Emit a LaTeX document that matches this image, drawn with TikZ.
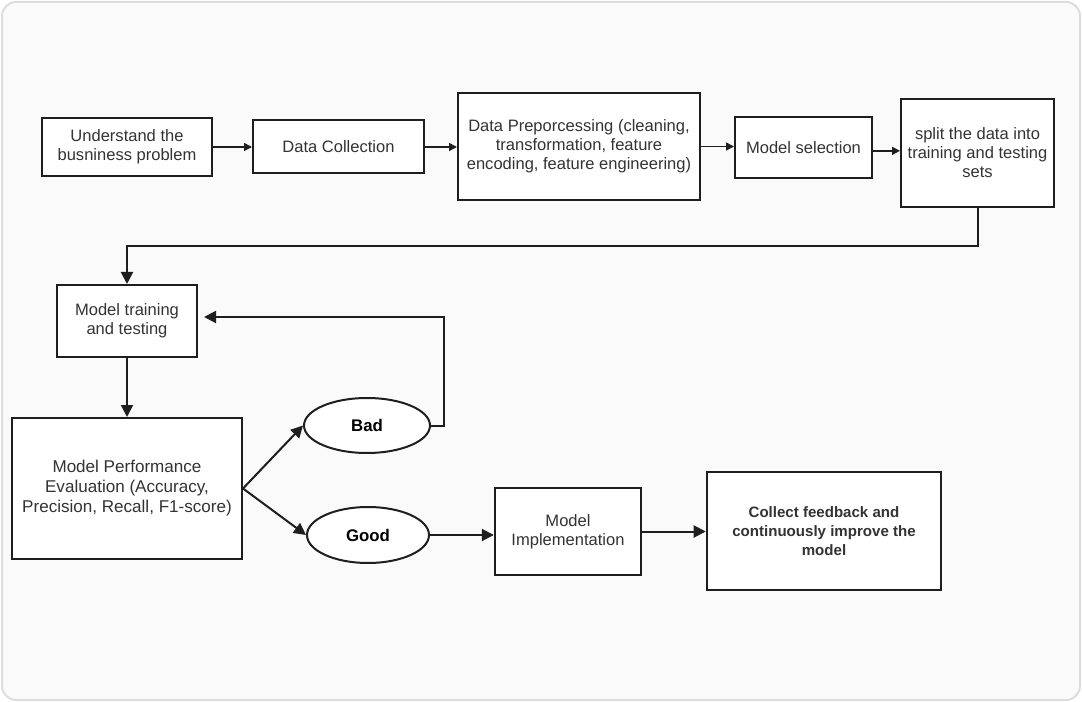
\documentclass[tikz,border=0pt]{standalone}
\usepackage{fontspec}
\setmainfont{Liberation Sans}
\usetikzlibrary{shapes.geometric,arrows.meta,calc}
\definecolor{bgc}{HTML}{FAFAFA}
\definecolor{bdc}{HTML}{DDDDDD}
\definecolor{ln}{HTML}{1E1E1E}
\definecolor{tx}{HTML}{333333}
\begin{document}
\begin{tikzpicture}[x=0.75pt,y=-0.75pt,
  box/.style={draw=ln,line width=1.5pt,fill=white,align=center,inner sep=0pt,text=tx,
    font=\fontsize{12.4}{14.3}\selectfont},
  oval/.style={ellipse,draw=ln,line width=1.5pt,fill=white,inner sep=0pt,text=black,
    font=\fontsize{12.6}{14}\selectfont\bfseries},
  arrs/.style={draw=ln,line width=1.1pt,-{Triangle[length=6pt,width=6pt]}},
  arrb/.style={draw=ln,line width=1.5pt,-{Triangle[length=9pt,width=9pt]}}]
\useasboundingbox (0,0) rectangle (1082,702);
\fill[white] (0,0) rectangle (1082,702);
\draw[fill=bgc,draw=bdc,line width=1.5pt,rounded corners=10.5pt] (2,2) rectangle (1080,700);

\node[box,minimum width=127.5pt,minimum height=43.5pt] (m1) at (127,147) {Understand the\\busniness problem};
\node[box,minimum width=128.25pt,minimum height=39.75pt] (m2) at (338.5,147) {Data Collection};
\node[box,minimum width=181.5pt,minimum height=80.25pt] (m3) at (579,146.5) {Data Preporcessing (cleaning,\\transformation, feature\\encoding, feature engineering)};
\node[box,minimum width=102.75pt,minimum height=45.75pt] (m4) at (803.5,147.5) {Model selection};
\node[box,minimum width=114.75pt,minimum height=81pt] (m5) at (977.5,153) {split the data into\\training and testing\\sets};
\node[box,minimum width=105pt,minimum height=54pt] (m6) at (127,321) {Model training\\and testing};
\node[box,minimum width=172.5pt,minimum height=105.75pt,font=\fontsize{12.8}{15}\selectfont] (m7) at (127,488.5) {Model Performance\\Evaluation (Accuracy,\\Precision, Recall, F1-score)};
\node[oval,minimum width=94.5pt,minimum height=41.25pt] (bad) at (367,425.5) {Bad};
\node[oval,minimum width=91.5pt,minimum height=42pt] (good) at (368,535) {Good};
\node[box,line width=1.8pt,minimum width=109.5pt,minimum height=65.25pt] (m8) at (568,531.5) {Model\\Implementation};
\node[box,line width=1.9pt,minimum width=175.5pt,minimum height=88.5pt,font=\fontsize{11.3}{14.3}\selectfont\bfseries] (m9) at (824,531) {Collect feedback and\\continuously improve the\\model};

\draw[arrs] (m1.east) -- (m1.east -| m2.west);
\draw[arrs] (m2.east) -- (m2.east -| m3.west);
\draw[arrs] (m3.east) -- (m3.east -| m4.west);
\draw[arrs] ([yshift=-2.5pt]m4.east) -- ([yshift=-2.5pt]m4.east -| m5.west);
\draw[arrb] (m5.south) -- ++(0,38) -| (m6.north);
\draw[arrb] (m6.south) -- (m7.north);
\draw[arrb] (m7.east) -- (bad.west);
\draw[arrb] (m7.east) -- (good.west);
\coordinate (fb) at (204,317);
\draw[arrb] (bad.east) -- ++(13,0) |- (fb);
\draw[arrb] (good.east) -- (good.east -| m8.west);
\draw[arrb] (m8.east) -- (m8.east -| m9.west);
\end{tikzpicture}
\end{document}
